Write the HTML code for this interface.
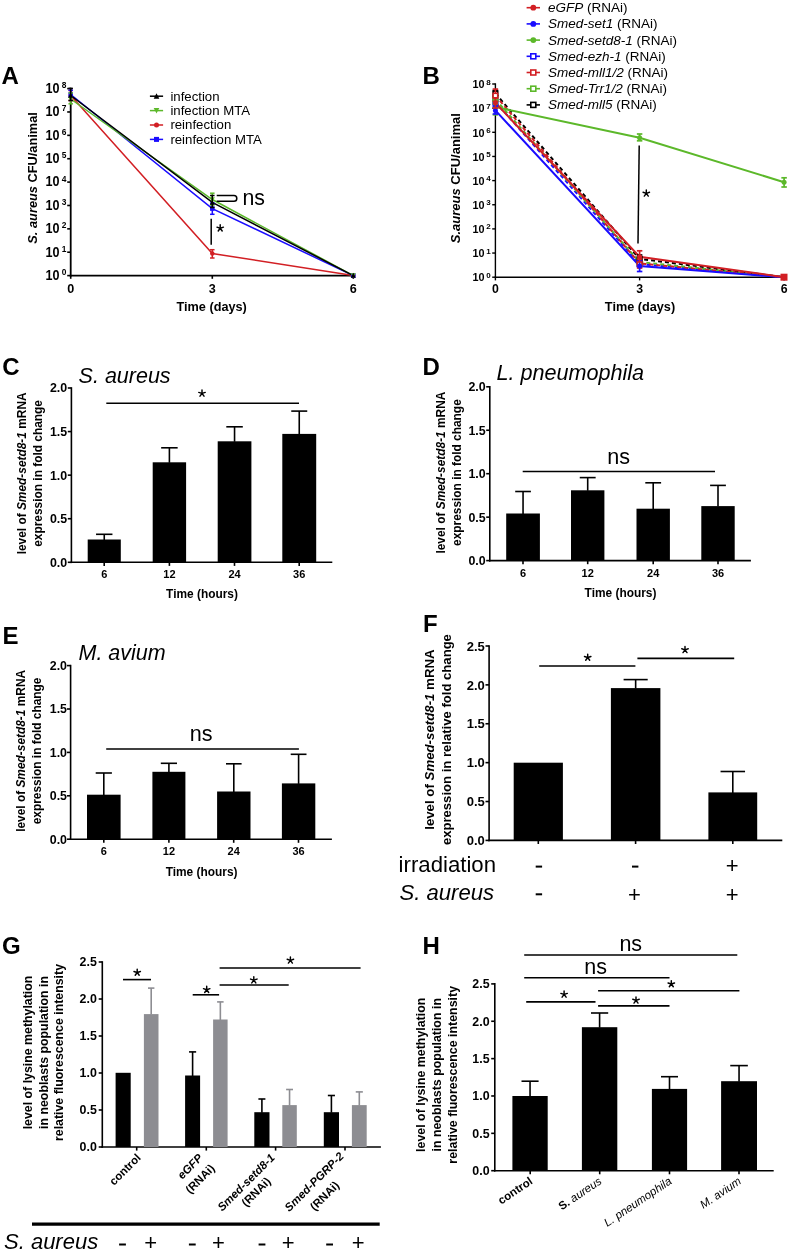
<!DOCTYPE html>
<html><head><meta charset="utf-8"><style>
html,body{margin:0;padding:0;background:#fff;}
body{width:790px;height:1252px;overflow:hidden;}
svg{display:block;font-family:"Liberation Sans",sans-serif;will-change:transform;}
</style></head><body>
<svg width="790" height="1252" viewBox="0 0 790 1252">
<rect width="790" height="1252" fill="#fff"/>
<text x="1.40" y="84.00" font-size="24" font-weight="bold" font-style="normal" text-anchor="start" fill="#000" >A</text>
<text x="422.60" y="84.00" font-size="24" font-weight="bold" font-style="normal" text-anchor="start" fill="#000" >B</text>
<text x="2.20" y="374.70" font-size="24" font-weight="bold" font-style="normal" text-anchor="start" fill="#000" >C</text>
<text x="422.60" y="374.80" font-size="24" font-weight="bold" font-style="normal" text-anchor="start" fill="#000" >D</text>
<text x="2.50" y="643.70" font-size="24" font-weight="bold" font-style="normal" text-anchor="start" fill="#000" >E</text>
<text x="422.90" y="631.80" font-size="24" font-weight="bold" font-style="normal" text-anchor="start" fill="#000" >F</text>
<text x="1.90" y="954.30" font-size="24" font-weight="bold" font-style="normal" text-anchor="start" fill="#000" >G</text>
<text x="422.60" y="954.20" font-size="24" font-weight="bold" font-style="normal" text-anchor="start" fill="#000" >H</text>
<line x1="70.70" y1="87.70" x2="70.70" y2="276.50" stroke="#000" stroke-width="1.8" />
<line x1="69.80" y1="275.60" x2="353.50" y2="275.60" stroke="#000" stroke-width="1.8" />
<line x1="67.20" y1="275.60" x2="70.70" y2="275.60" stroke="#000" stroke-width="1.6" />
<text transform="translate(59.6,279.90) scale(0.9,1)" font-size="14" font-weight="bold" text-anchor="end">10</text>
<text x="61.80" y="275.10" font-size="8.4" font-weight="bold" font-style="normal" text-anchor="start" fill="#000" >0</text>
<line x1="67.20" y1="252.23" x2="70.70" y2="252.23" stroke="#000" stroke-width="1.6" />
<text transform="translate(59.6,256.53) scale(0.9,1)" font-size="14" font-weight="bold" text-anchor="end">10</text>
<text x="61.80" y="251.73" font-size="8.4" font-weight="bold" font-style="normal" text-anchor="start" fill="#000" >1</text>
<line x1="67.20" y1="228.85" x2="70.70" y2="228.85" stroke="#000" stroke-width="1.6" />
<text transform="translate(59.6,233.15) scale(0.9,1)" font-size="14" font-weight="bold" text-anchor="end">10</text>
<text x="61.80" y="228.35" font-size="8.4" font-weight="bold" font-style="normal" text-anchor="start" fill="#000" >2</text>
<line x1="67.20" y1="205.48" x2="70.70" y2="205.48" stroke="#000" stroke-width="1.6" />
<text transform="translate(59.6,209.78) scale(0.9,1)" font-size="14" font-weight="bold" text-anchor="end">10</text>
<text x="61.80" y="204.98" font-size="8.4" font-weight="bold" font-style="normal" text-anchor="start" fill="#000" >3</text>
<line x1="67.20" y1="182.10" x2="70.70" y2="182.10" stroke="#000" stroke-width="1.6" />
<text transform="translate(59.6,186.40) scale(0.9,1)" font-size="14" font-weight="bold" text-anchor="end">10</text>
<text x="61.80" y="181.60" font-size="8.4" font-weight="bold" font-style="normal" text-anchor="start" fill="#000" >4</text>
<line x1="67.20" y1="158.73" x2="70.70" y2="158.73" stroke="#000" stroke-width="1.6" />
<text transform="translate(59.6,163.03) scale(0.9,1)" font-size="14" font-weight="bold" text-anchor="end">10</text>
<text x="61.80" y="158.23" font-size="8.4" font-weight="bold" font-style="normal" text-anchor="start" fill="#000" >5</text>
<line x1="67.20" y1="135.35" x2="70.70" y2="135.35" stroke="#000" stroke-width="1.6" />
<text transform="translate(59.6,139.65) scale(0.9,1)" font-size="14" font-weight="bold" text-anchor="end">10</text>
<text x="61.80" y="134.85" font-size="8.4" font-weight="bold" font-style="normal" text-anchor="start" fill="#000" >6</text>
<line x1="67.20" y1="111.97" x2="70.70" y2="111.97" stroke="#000" stroke-width="1.6" />
<text transform="translate(59.6,116.27) scale(0.9,1)" font-size="14" font-weight="bold" text-anchor="end">10</text>
<text x="61.80" y="111.47" font-size="8.4" font-weight="bold" font-style="normal" text-anchor="start" fill="#000" >7</text>
<line x1="67.20" y1="88.60" x2="70.70" y2="88.60" stroke="#000" stroke-width="1.6" />
<text transform="translate(59.6,92.90) scale(0.9,1)" font-size="14" font-weight="bold" text-anchor="end">10</text>
<text x="61.80" y="88.10" font-size="8.4" font-weight="bold" font-style="normal" text-anchor="start" fill="#000" >8</text>
<line x1="70.70" y1="275.60" x2="70.70" y2="278.80" stroke="#000" stroke-width="1.6" />
<text x="70.70" y="292.90" font-size="12.6" font-weight="bold" font-style="normal" text-anchor="middle" fill="#000" >0</text>
<line x1="212.30" y1="275.60" x2="212.30" y2="278.80" stroke="#000" stroke-width="1.6" />
<text x="212.30" y="292.90" font-size="12.6" font-weight="bold" font-style="normal" text-anchor="middle" fill="#000" >3</text>
<line x1="353.30" y1="275.60" x2="353.30" y2="278.80" stroke="#000" stroke-width="1.6" />
<text x="353.30" y="292.90" font-size="12.6" font-weight="bold" font-style="normal" text-anchor="middle" fill="#000" >6</text>
<text x="211.70" y="311.40" font-size="12.7" font-weight="bold" font-style="normal" text-anchor="middle" fill="#000" >Time (days)</text>
<text transform="translate(37.00,177.90) rotate(-90)" font-size="12.8" font-weight="bold" text-anchor="middle"><tspan font-style="italic">S. aureus</tspan> CFU/animal</text>
<polyline points="70.70,95.50 212.30,253.50 353.30,275.60" fill="none" stroke="#d21f24" stroke-width="1.5"/>
<polyline points="70.70,94.50 212.30,208.60 353.30,275.60" fill="none" stroke="#1a0cff" stroke-width="1.5"/>
<polyline points="70.70,99.00 212.30,199.50 353.30,275.60" fill="none" stroke="#5cb82a" stroke-width="1.5"/>
<polyline points="70.70,95.50 212.30,202.40 353.30,275.60" fill="none" stroke="#000" stroke-width="1.5"/>
<line x1="70.70" y1="90.50" x2="70.70" y2="100.50" stroke="#d21f24" stroke-width="1.5" />
<line x1="68.45" y1="90.50" x2="72.95" y2="90.50" stroke="#d21f24" stroke-width="1.5" />
<line x1="68.45" y1="100.50" x2="72.95" y2="100.50" stroke="#d21f24" stroke-width="1.5" />
<circle cx="70.70" cy="95.50" r="2.25" fill="#d21f24"/>
<line x1="212.30" y1="249.70" x2="212.30" y2="258.00" stroke="#d21f24" stroke-width="1.5" />
<line x1="210.05" y1="249.70" x2="214.55" y2="249.70" stroke="#d21f24" stroke-width="1.5" />
<line x1="210.05" y1="258.00" x2="214.55" y2="258.00" stroke="#d21f24" stroke-width="1.5" />
<circle cx="212.30" cy="253.50" r="2.25" fill="#d21f24"/>
<circle cx="353.30" cy="275.60" r="2.25" fill="#d21f24"/>
<line x1="70.70" y1="90.20" x2="70.70" y2="97.00" stroke="#1a0cff" stroke-width="1.5" />
<line x1="68.45" y1="90.20" x2="72.95" y2="90.20" stroke="#1a0cff" stroke-width="1.5" />
<line x1="68.45" y1="97.00" x2="72.95" y2="97.00" stroke="#1a0cff" stroke-width="1.5" />
<rect x="68.45" y="92.25" width="4.5" height="4.5" fill="#1a0cff"/>
<line x1="212.30" y1="203.00" x2="212.30" y2="214.30" stroke="#1a0cff" stroke-width="1.5" />
<line x1="210.05" y1="203.00" x2="214.55" y2="203.00" stroke="#1a0cff" stroke-width="1.5" />
<line x1="210.05" y1="214.30" x2="214.55" y2="214.30" stroke="#1a0cff" stroke-width="1.5" />
<rect x="210.05" y="206.35" width="4.5" height="4.5" fill="#1a0cff"/>
<rect x="351.05" y="273.35" width="4.5" height="4.5" fill="#1a0cff"/>
<line x1="70.70" y1="93.00" x2="70.70" y2="103.80" stroke="#5cb82a" stroke-width="1.5" />
<line x1="68.45" y1="93.00" x2="72.95" y2="93.00" stroke="#5cb82a" stroke-width="1.5" />
<line x1="68.45" y1="103.80" x2="72.95" y2="103.80" stroke="#5cb82a" stroke-width="1.5" />
<polygon points="70.70,101.75 68.15,96.75 73.25,96.75" fill="#5cb82a"/>
<line x1="212.30" y1="193.20" x2="212.30" y2="205.00" stroke="#5cb82a" stroke-width="1.5" />
<line x1="210.05" y1="193.20" x2="214.55" y2="193.20" stroke="#5cb82a" stroke-width="1.5" />
<line x1="210.05" y1="205.00" x2="214.55" y2="205.00" stroke="#5cb82a" stroke-width="1.5" />
<polygon points="212.30,202.25 209.75,197.25 214.85,197.25" fill="#5cb82a"/>
<polygon points="353.30,278.35 350.75,273.35 355.85,273.35" fill="#5cb82a"/>
<line x1="70.70" y1="88.40" x2="70.70" y2="100.50" stroke="#000" stroke-width="1.5" />
<line x1="68.45" y1="88.40" x2="72.95" y2="88.40" stroke="#000" stroke-width="1.5" />
<line x1="68.45" y1="100.50" x2="72.95" y2="100.50" stroke="#000" stroke-width="1.5" />
<polygon points="70.70,92.75 68.15,97.75 73.25,97.75" fill="#000"/>
<line x1="212.30" y1="195.50" x2="212.30" y2="207.50" stroke="#000" stroke-width="1.5" />
<line x1="210.05" y1="195.50" x2="214.55" y2="195.50" stroke="#000" stroke-width="1.5" />
<line x1="210.05" y1="207.50" x2="214.55" y2="207.50" stroke="#000" stroke-width="1.5" />
<polygon points="212.30,199.65 209.75,204.65 214.85,204.65" fill="#000"/>
<polygon points="353.30,272.85 350.75,277.85 355.85,277.85" fill="#000"/>
<line x1="211.20" y1="218.70" x2="211.20" y2="244.70" stroke="#000" stroke-width="1.5" />
<path d="M220.20,228.22 L220.20,224.82 M220.20,228.22 L223.43,227.17 M220.20,228.22 L222.20,230.97 M220.20,228.22 L218.20,230.97 M220.20,228.22 L216.97,227.17 " stroke="#000" stroke-width="1.45" stroke-linecap="round" fill="none"/>
<path d="M216.7,195.6 H234 Q236.8,195.6 236.8,198.4 Q236.8,201.2 234,201.2 H216.7" fill="none" stroke="#000" stroke-width="1.5"/>
<text x="242.40" y="204.80" font-size="21.3" font-weight="normal" font-style="normal" text-anchor="start" fill="#000" >ns</text>
<line x1="149.90" y1="96.20" x2="163.10" y2="96.20" stroke="#000" stroke-width="1.5" />
<polygon points="156.50,93.20 153.70,98.70 159.30,98.70" fill="#000"/>
<text x="170.40" y="100.60" font-size="13.2" font-weight="normal" font-style="normal" text-anchor="start" fill="#000" >infection</text>
<line x1="149.90" y1="110.60" x2="163.10" y2="110.60" stroke="#5cb82a" stroke-width="1.5" />
<polygon points="156.50,113.60 153.70,108.10 159.30,108.10" fill="#5cb82a"/>
<text x="170.40" y="115.00" font-size="13.2" font-weight="normal" font-style="normal" text-anchor="start" fill="#000" >infection MTA</text>
<line x1="149.90" y1="125.00" x2="163.10" y2="125.00" stroke="#d21f24" stroke-width="1.5" />
<circle cx="156.50" cy="125.00" r="2.50" fill="#d21f24"/>
<text x="170.40" y="129.40" font-size="13.2" font-weight="normal" font-style="normal" text-anchor="start" fill="#000" >reinfection</text>
<line x1="149.90" y1="139.40" x2="163.10" y2="139.40" stroke="#1a0cff" stroke-width="1.5" />
<rect x="154.00" y="136.90" width="5" height="5" fill="#1a0cff"/>
<text x="170.40" y="143.80" font-size="13.2" font-weight="normal" font-style="normal" text-anchor="start" fill="#000" >reinfection MTA</text>
<line x1="495.40" y1="83.30" x2="495.40" y2="277.90" stroke="#000" stroke-width="1.4" />
<line x1="494.70" y1="277.20" x2="784.50" y2="277.20" stroke="#000" stroke-width="1.4" />
<line x1="492.20" y1="277.20" x2="495.40" y2="277.20" stroke="#000" stroke-width="1.4" />
<text transform="translate(484.6,281.40) scale(0.92,1)" font-size="11.8" font-weight="bold" text-anchor="end">10</text>
<text x="486.20" y="277.70" font-size="8.0" font-weight="bold" font-style="normal" text-anchor="start" fill="#000" >0</text>
<line x1="492.20" y1="253.05" x2="495.40" y2="253.05" stroke="#000" stroke-width="1.4" />
<text transform="translate(484.6,257.25) scale(0.92,1)" font-size="11.8" font-weight="bold" text-anchor="end">10</text>
<text x="486.20" y="253.55" font-size="8.0" font-weight="bold" font-style="normal" text-anchor="start" fill="#000" >1</text>
<line x1="492.20" y1="228.90" x2="495.40" y2="228.90" stroke="#000" stroke-width="1.4" />
<text transform="translate(484.6,233.10) scale(0.92,1)" font-size="11.8" font-weight="bold" text-anchor="end">10</text>
<text x="486.20" y="229.40" font-size="8.0" font-weight="bold" font-style="normal" text-anchor="start" fill="#000" >2</text>
<line x1="492.20" y1="204.75" x2="495.40" y2="204.75" stroke="#000" stroke-width="1.4" />
<text transform="translate(484.6,208.95) scale(0.92,1)" font-size="11.8" font-weight="bold" text-anchor="end">10</text>
<text x="486.20" y="205.25" font-size="8.0" font-weight="bold" font-style="normal" text-anchor="start" fill="#000" >3</text>
<line x1="492.20" y1="180.60" x2="495.40" y2="180.60" stroke="#000" stroke-width="1.4" />
<text transform="translate(484.6,184.80) scale(0.92,1)" font-size="11.8" font-weight="bold" text-anchor="end">10</text>
<text x="486.20" y="181.10" font-size="8.0" font-weight="bold" font-style="normal" text-anchor="start" fill="#000" >4</text>
<line x1="492.20" y1="156.45" x2="495.40" y2="156.45" stroke="#000" stroke-width="1.4" />
<text transform="translate(484.6,160.65) scale(0.92,1)" font-size="11.8" font-weight="bold" text-anchor="end">10</text>
<text x="486.20" y="156.95" font-size="8.0" font-weight="bold" font-style="normal" text-anchor="start" fill="#000" >5</text>
<line x1="492.20" y1="132.30" x2="495.40" y2="132.30" stroke="#000" stroke-width="1.4" />
<text transform="translate(484.6,136.50) scale(0.92,1)" font-size="11.8" font-weight="bold" text-anchor="end">10</text>
<text x="486.20" y="132.80" font-size="8.0" font-weight="bold" font-style="normal" text-anchor="start" fill="#000" >6</text>
<line x1="492.20" y1="108.15" x2="495.40" y2="108.15" stroke="#000" stroke-width="1.4" />
<text transform="translate(484.6,112.35) scale(0.92,1)" font-size="11.8" font-weight="bold" text-anchor="end">10</text>
<text x="486.20" y="108.65" font-size="8.0" font-weight="bold" font-style="normal" text-anchor="start" fill="#000" >7</text>
<line x1="492.20" y1="84.00" x2="495.40" y2="84.00" stroke="#000" stroke-width="1.4" />
<text transform="translate(484.6,88.20) scale(0.92,1)" font-size="11.8" font-weight="bold" text-anchor="end">10</text>
<text x="486.20" y="84.50" font-size="8.0" font-weight="bold" font-style="normal" text-anchor="start" fill="#000" >8</text>
<line x1="495.40" y1="277.20" x2="495.40" y2="280.40" stroke="#000" stroke-width="1.4" />
<text x="495.40" y="293.10" font-size="12.3" font-weight="bold" font-style="normal" text-anchor="middle" fill="#000" >0</text>
<line x1="639.60" y1="277.20" x2="639.60" y2="280.40" stroke="#000" stroke-width="1.4" />
<text x="639.60" y="293.10" font-size="12.3" font-weight="bold" font-style="normal" text-anchor="middle" fill="#000" >3</text>
<line x1="784.10" y1="277.20" x2="784.10" y2="280.40" stroke="#000" stroke-width="1.4" />
<text x="784.10" y="293.10" font-size="12.3" font-weight="bold" font-style="normal" text-anchor="middle" fill="#000" >6</text>
<text x="640.00" y="311.10" font-size="12.7" font-weight="bold" font-style="normal" text-anchor="middle" fill="#000" >Time (days)</text>
<text transform="translate(459.90,178.20) rotate(-90)" font-size="13.0" font-weight="bold" text-anchor="middle"><tspan font-style="italic">S.aureus</tspan> CFU/animal</text>
<polyline points="495.40,102.00 639.60,264.00 784.10,277.20" fill="none" stroke="#1a0cff" stroke-width="2" stroke-dasharray="4,3"/>
<polyline points="495.40,99.50 639.60,262.00 784.10,277.20" fill="none" stroke="#5cb82a" stroke-width="2" stroke-dasharray="4,3"/>
<polyline points="495.40,93.50 639.60,258.90 784.10,277.20" fill="none" stroke="#000" stroke-width="2" stroke-dasharray="4,3"/>
<polyline points="495.40,95.60 639.60,263.40 784.10,277.20" fill="none" stroke="#d21f24" stroke-width="2" stroke-dasharray="4,3"/>
<polyline points="495.40,107.00 639.60,137.70 784.10,182.20" fill="none" stroke="#5cb82a" stroke-width="2" />
<polyline points="495.40,110.40 639.60,266.00 784.10,277.20" fill="none" stroke="#1a0cff" stroke-width="2" />
<polyline points="495.40,102.80 639.60,256.80 784.10,277.20" fill="none" stroke="#d21f24" stroke-width="2" />
<line x1="495.40" y1="99.00" x2="495.40" y2="106.00" stroke="#1a0cff" stroke-width="1.7" />
<line x1="492.65" y1="99.00" x2="498.15" y2="99.00" stroke="#1a0cff" stroke-width="1.7" />
<line x1="492.65" y1="106.00" x2="498.15" y2="106.00" stroke="#1a0cff" stroke-width="1.7" />
<rect x="493.10" y="99.70" width="4.60" height="4.60" fill="#fff" stroke="#1a0cff" stroke-width="1.6"/>
<line x1="639.60" y1="260.00" x2="639.60" y2="267.00" stroke="#1a0cff" stroke-width="1.7" />
<line x1="636.85" y1="260.00" x2="642.35" y2="260.00" stroke="#1a0cff" stroke-width="1.7" />
<line x1="636.85" y1="267.00" x2="642.35" y2="267.00" stroke="#1a0cff" stroke-width="1.7" />
<rect x="637.30" y="261.70" width="4.60" height="4.60" fill="#fff" stroke="#1a0cff" stroke-width="1.6"/>
<line x1="495.40" y1="97.00" x2="495.40" y2="104.00" stroke="#5cb82a" stroke-width="1.7" />
<line x1="492.65" y1="97.00" x2="498.15" y2="97.00" stroke="#5cb82a" stroke-width="1.7" />
<line x1="492.65" y1="104.00" x2="498.15" y2="104.00" stroke="#5cb82a" stroke-width="1.7" />
<rect x="493.10" y="97.20" width="4.60" height="4.60" fill="#fff" stroke="#5cb82a" stroke-width="1.6"/>
<line x1="639.60" y1="258.00" x2="639.60" y2="266.00" stroke="#5cb82a" stroke-width="1.7" />
<line x1="636.85" y1="258.00" x2="642.35" y2="258.00" stroke="#5cb82a" stroke-width="1.7" />
<line x1="636.85" y1="266.00" x2="642.35" y2="266.00" stroke="#5cb82a" stroke-width="1.7" />
<rect x="637.30" y="259.70" width="4.60" height="4.60" fill="#fff" stroke="#5cb82a" stroke-width="1.6"/>
<line x1="495.40" y1="90.50" x2="495.40" y2="97.00" stroke="#000" stroke-width="1.7" />
<line x1="492.65" y1="90.50" x2="498.15" y2="90.50" stroke="#000" stroke-width="1.7" />
<line x1="492.65" y1="97.00" x2="498.15" y2="97.00" stroke="#000" stroke-width="1.7" />
<rect x="493.10" y="91.20" width="4.60" height="4.60" fill="#fff" stroke="#000" stroke-width="1.6"/>
<line x1="639.60" y1="255.00" x2="639.60" y2="263.00" stroke="#000" stroke-width="1.7" />
<line x1="636.85" y1="255.00" x2="642.35" y2="255.00" stroke="#000" stroke-width="1.7" />
<line x1="636.85" y1="263.00" x2="642.35" y2="263.00" stroke="#000" stroke-width="1.7" />
<rect x="637.30" y="256.60" width="4.60" height="4.60" fill="#fff" stroke="#000" stroke-width="1.6"/>
<line x1="495.40" y1="89.10" x2="495.40" y2="101.00" stroke="#d21f24" stroke-width="1.7" />
<line x1="492.65" y1="89.10" x2="498.15" y2="89.10" stroke="#d21f24" stroke-width="1.7" />
<line x1="492.65" y1="101.00" x2="498.15" y2="101.00" stroke="#d21f24" stroke-width="1.7" />
<rect x="493.10" y="93.30" width="4.60" height="4.60" fill="#fff" stroke="#d21f24" stroke-width="1.6"/>
<line x1="639.60" y1="259.00" x2="639.60" y2="268.00" stroke="#d21f24" stroke-width="1.7" />
<line x1="636.85" y1="259.00" x2="642.35" y2="259.00" stroke="#d21f24" stroke-width="1.7" />
<line x1="636.85" y1="268.00" x2="642.35" y2="268.00" stroke="#d21f24" stroke-width="1.7" />
<rect x="637.30" y="261.10" width="4.60" height="4.60" fill="#fff" stroke="#d21f24" stroke-width="1.6"/>
<line x1="495.40" y1="99.70" x2="495.40" y2="114.80" stroke="#5cb82a" stroke-width="1.7" />
<line x1="492.65" y1="99.70" x2="498.15" y2="99.70" stroke="#5cb82a" stroke-width="1.7" />
<line x1="492.65" y1="114.80" x2="498.15" y2="114.80" stroke="#5cb82a" stroke-width="1.7" />
<circle cx="495.40" cy="107.00" r="2.50" fill="#5cb82a"/>
<line x1="639.60" y1="134.00" x2="639.60" y2="140.80" stroke="#5cb82a" stroke-width="1.7" />
<line x1="636.85" y1="134.00" x2="642.35" y2="134.00" stroke="#5cb82a" stroke-width="1.7" />
<line x1="636.85" y1="140.80" x2="642.35" y2="140.80" stroke="#5cb82a" stroke-width="1.7" />
<circle cx="639.60" cy="137.70" r="2.50" fill="#5cb82a"/>
<line x1="784.10" y1="177.80" x2="784.10" y2="187.00" stroke="#5cb82a" stroke-width="1.7" />
<line x1="781.35" y1="177.80" x2="786.85" y2="177.80" stroke="#5cb82a" stroke-width="1.7" />
<line x1="781.35" y1="187.00" x2="786.85" y2="187.00" stroke="#5cb82a" stroke-width="1.7" />
<circle cx="784.10" cy="182.20" r="2.50" fill="#5cb82a"/>
<line x1="495.40" y1="106.00" x2="495.40" y2="114.00" stroke="#1a0cff" stroke-width="1.7" />
<line x1="492.65" y1="106.00" x2="498.15" y2="106.00" stroke="#1a0cff" stroke-width="1.7" />
<line x1="492.65" y1="114.00" x2="498.15" y2="114.00" stroke="#1a0cff" stroke-width="1.7" />
<circle cx="495.40" cy="110.40" r="2.50" fill="#1a0cff"/>
<line x1="639.60" y1="261.00" x2="639.60" y2="271.50" stroke="#1a0cff" stroke-width="1.7" />
<line x1="636.85" y1="261.00" x2="642.35" y2="261.00" stroke="#1a0cff" stroke-width="1.7" />
<line x1="636.85" y1="271.50" x2="642.35" y2="271.50" stroke="#1a0cff" stroke-width="1.7" />
<circle cx="639.60" cy="266.00" r="2.50" fill="#1a0cff"/>
<line x1="495.40" y1="98.00" x2="495.40" y2="108.00" stroke="#d21f24" stroke-width="1.7" />
<line x1="492.65" y1="98.00" x2="498.15" y2="98.00" stroke="#d21f24" stroke-width="1.7" />
<line x1="492.65" y1="108.00" x2="498.15" y2="108.00" stroke="#d21f24" stroke-width="1.7" />
<circle cx="495.40" cy="102.80" r="2.50" fill="#d21f24"/>
<line x1="639.60" y1="250.80" x2="639.60" y2="262.00" stroke="#d21f24" stroke-width="1.7" />
<line x1="636.85" y1="250.80" x2="642.35" y2="250.80" stroke="#d21f24" stroke-width="1.7" />
<line x1="636.85" y1="262.00" x2="642.35" y2="262.00" stroke="#d21f24" stroke-width="1.7" />
<circle cx="639.60" cy="256.80" r="2.50" fill="#d21f24"/>
<rect x="780.50" y="273.70" width="7.00" height="7.00" fill="#d21f24"/>
<line x1="639.20" y1="145.60" x2="638.00" y2="243.50" stroke="#000" stroke-width="1.5" />
<path d="M646.30,193.32 L646.30,189.92 M646.30,193.32 L649.53,192.27 M646.30,193.32 L648.30,196.07 M646.30,193.32 L644.30,196.07 M646.30,193.32 L643.07,192.27 " stroke="#000" stroke-width="1.45" stroke-linecap="round" fill="none"/>
<line x1="526.60" y1="7.70" x2="540.00" y2="7.70" stroke="#d21f24" stroke-width="1.6" />
<circle cx="533.30" cy="7.70" r="2.90" fill="#d21f24"/>
<text x="547.90" y="12.20" font-size="13.5" font-weight="normal" font-style="normal" text-anchor="start" fill="#000" ><tspan font-style="italic">eGFP</tspan> (RNAi)</text>
<line x1="526.60" y1="23.90" x2="540.00" y2="23.90" stroke="#1a0cff" stroke-width="1.6" />
<circle cx="533.30" cy="23.90" r="2.90" fill="#1a0cff"/>
<text x="547.90" y="28.40" font-size="13.5" font-weight="normal" font-style="normal" text-anchor="start" fill="#000" ><tspan font-style="italic">Smed-set1</tspan> (RNAi)</text>
<line x1="526.60" y1="40.10" x2="540.00" y2="40.10" stroke="#5cb82a" stroke-width="1.6" />
<circle cx="533.30" cy="40.10" r="2.90" fill="#5cb82a"/>
<text x="547.90" y="44.60" font-size="13.5" font-weight="normal" font-style="normal" text-anchor="start" fill="#000" ><tspan font-style="italic">Smed-setd8-1</tspan> (RNAi)</text>
<line x1="526.60" y1="56.30" x2="540.00" y2="56.30" stroke="#1a0cff" stroke-width="1.6" />
<rect x="530.80" y="53.80" width="5.00" height="5.00" fill="#fff" stroke="#1a0cff" stroke-width="1.6"/>
<text x="547.90" y="60.80" font-size="13.5" font-weight="normal" font-style="normal" text-anchor="start" fill="#000" ><tspan font-style="italic">Smed-ezh-1</tspan> (RNAi)</text>
<line x1="526.60" y1="72.50" x2="540.00" y2="72.50" stroke="#d21f24" stroke-width="1.6" />
<rect x="530.80" y="70.00" width="5.00" height="5.00" fill="#fff" stroke="#d21f24" stroke-width="1.6"/>
<text x="547.90" y="77.00" font-size="13.5" font-weight="normal" font-style="normal" text-anchor="start" fill="#000" ><tspan font-style="italic">Smed-mll1/2</tspan> (RNAi)</text>
<line x1="526.60" y1="88.70" x2="540.00" y2="88.70" stroke="#5cb82a" stroke-width="1.6" />
<rect x="530.80" y="86.20" width="5.00" height="5.00" fill="#fff" stroke="#5cb82a" stroke-width="1.6"/>
<text x="547.90" y="93.20" font-size="13.5" font-weight="normal" font-style="normal" text-anchor="start" fill="#000" ><tspan font-style="italic">Smed-Trr1/2</tspan> (RNAi)</text>
<line x1="526.60" y1="104.90" x2="540.00" y2="104.90" stroke="#000" stroke-width="1.6" />
<rect x="530.80" y="102.40" width="5.00" height="5.00" fill="#fff" stroke="#000" stroke-width="1.6"/>
<text x="547.90" y="109.40" font-size="13.5" font-weight="normal" font-style="normal" text-anchor="start" fill="#000" ><tspan font-style="italic">Smed-mll5</tspan> (RNAi)</text>
<text x="78.60" y="382.80" font-size="21.5" font-weight="normal" font-style="italic" text-anchor="start" fill="#000" >S. aureus</text>
<line x1="71.40" y1="387.20" x2="71.40" y2="563.10" stroke="#000" stroke-width="1.6" />
<line x1="70.60" y1="562.30" x2="332.30" y2="562.30" stroke="#000" stroke-width="1.6" />
<line x1="67.80" y1="562.30" x2="71.40" y2="562.30" stroke="#000" stroke-width="1.6" />
<text x="67.20" y="566.76" font-size="12.4" font-weight="bold" font-style="normal" text-anchor="end" fill="#000" >0.0</text>
<line x1="67.80" y1="518.72" x2="71.40" y2="518.72" stroke="#000" stroke-width="1.6" />
<text x="67.20" y="523.19" font-size="12.4" font-weight="bold" font-style="normal" text-anchor="end" fill="#000" >0.5</text>
<line x1="67.80" y1="475.15" x2="71.40" y2="475.15" stroke="#000" stroke-width="1.6" />
<text x="67.20" y="479.61" font-size="12.4" font-weight="bold" font-style="normal" text-anchor="end" fill="#000" >1.0</text>
<line x1="67.80" y1="431.57" x2="71.40" y2="431.57" stroke="#000" stroke-width="1.6" />
<text x="67.20" y="436.04" font-size="12.4" font-weight="bold" font-style="normal" text-anchor="end" fill="#000" >1.5</text>
<line x1="67.80" y1="388.00" x2="71.40" y2="388.00" stroke="#000" stroke-width="1.6" />
<text x="67.20" y="392.46" font-size="12.4" font-weight="bold" font-style="normal" text-anchor="end" fill="#000" >2.0</text>
<rect x="87.70" y="539.50" width="33.10" height="22.80" fill="#000"/>
<line x1="104.25" y1="534.30" x2="104.25" y2="540.00" stroke="#000" stroke-width="1.6" />
<line x1="96.05" y1="534.30" x2="112.45" y2="534.30" stroke="#000" stroke-width="1.6" />
<rect x="152.70" y="462.30" width="33.40" height="100.00" fill="#000"/>
<line x1="169.40" y1="447.80" x2="169.40" y2="462.80" stroke="#000" stroke-width="1.6" />
<line x1="161.15" y1="447.80" x2="177.65" y2="447.80" stroke="#000" stroke-width="1.6" />
<rect x="217.70" y="441.30" width="33.70" height="121.00" fill="#000"/>
<line x1="234.55" y1="426.80" x2="234.55" y2="441.80" stroke="#000" stroke-width="1.6" />
<line x1="226.30" y1="426.80" x2="242.80" y2="426.80" stroke="#000" stroke-width="1.6" />
<rect x="282.30" y="433.90" width="33.90" height="128.40" fill="#000"/>
<line x1="299.25" y1="411.10" x2="299.25" y2="434.40" stroke="#000" stroke-width="1.6" />
<line x1="291.25" y1="411.10" x2="307.25" y2="411.10" stroke="#000" stroke-width="1.6" />
<line x1="104.20" y1="562.30" x2="104.20" y2="565.90" stroke="#000" stroke-width="1.6" />
<text x="104.20" y="577.90" font-size="11" font-weight="bold" font-style="normal" text-anchor="middle" fill="#000" >6</text>
<line x1="169.40" y1="562.30" x2="169.40" y2="565.90" stroke="#000" stroke-width="1.6" />
<text x="169.40" y="577.90" font-size="11" font-weight="bold" font-style="normal" text-anchor="middle" fill="#000" >12</text>
<line x1="234.50" y1="562.30" x2="234.50" y2="565.90" stroke="#000" stroke-width="1.6" />
<text x="234.50" y="577.90" font-size="11" font-weight="bold" font-style="normal" text-anchor="middle" fill="#000" >24</text>
<line x1="299.20" y1="562.30" x2="299.20" y2="565.90" stroke="#000" stroke-width="1.6" />
<text x="299.20" y="577.90" font-size="11" font-weight="bold" font-style="normal" text-anchor="middle" fill="#000" >36</text>
<line x1="106.30" y1="403.30" x2="299.00" y2="403.30" stroke="#000" stroke-width="1.6" />
<path d="M202.00,393.42 L202.00,390.02 M202.00,393.42 L205.23,392.37 M202.00,393.42 L204.00,396.17 M202.00,393.42 L200.00,396.17 M202.00,393.42 L198.77,392.37 " stroke="#000" stroke-width="1.45" stroke-linecap="round" fill="none"/>
<text x="202.00" y="598.10" font-size="11.9" font-weight="bold" font-style="normal" text-anchor="middle" fill="#000" >Time (hours)</text>
<text transform="translate(26.20,473.40) rotate(-90)" font-size="11.9" font-weight="bold" text-anchor="middle">level of <tspan font-style="italic">Smed-setd8-1</tspan> mRNA</text>
<text transform="translate(42.20,473.40) rotate(-90)" font-size="11.9" font-weight="bold" text-anchor="middle">expression in fold change</text>
<text x="496.40" y="380.40" font-size="21.6" font-weight="normal" font-style="italic" text-anchor="start" fill="#000" >L. pneumophila</text>
<line x1="489.80" y1="386.00" x2="489.80" y2="561.40" stroke="#000" stroke-width="1.6" />
<line x1="489.00" y1="560.60" x2="750.90" y2="560.60" stroke="#000" stroke-width="1.6" />
<line x1="486.20" y1="560.60" x2="489.80" y2="560.60" stroke="#000" stroke-width="1.6" />
<text x="485.70" y="565.06" font-size="12.4" font-weight="bold" font-style="normal" text-anchor="end" fill="#000" >0.0</text>
<line x1="486.20" y1="517.15" x2="489.80" y2="517.15" stroke="#000" stroke-width="1.6" />
<text x="485.70" y="521.61" font-size="12.4" font-weight="bold" font-style="normal" text-anchor="end" fill="#000" >0.5</text>
<line x1="486.20" y1="473.70" x2="489.80" y2="473.70" stroke="#000" stroke-width="1.6" />
<text x="485.70" y="478.16" font-size="12.4" font-weight="bold" font-style="normal" text-anchor="end" fill="#000" >1.0</text>
<line x1="486.20" y1="430.25" x2="489.80" y2="430.25" stroke="#000" stroke-width="1.6" />
<text x="485.70" y="434.71" font-size="12.4" font-weight="bold" font-style="normal" text-anchor="end" fill="#000" >1.5</text>
<line x1="486.20" y1="386.80" x2="489.80" y2="386.80" stroke="#000" stroke-width="1.6" />
<text x="485.70" y="391.26" font-size="12.4" font-weight="bold" font-style="normal" text-anchor="end" fill="#000" >2.0</text>
<rect x="506.20" y="513.50" width="33.70" height="47.10" fill="#000"/>
<line x1="523.05" y1="491.50" x2="523.05" y2="514.00" stroke="#000" stroke-width="1.6" />
<line x1="515.20" y1="491.50" x2="530.90" y2="491.50" stroke="#000" stroke-width="1.6" />
<rect x="571.00" y="490.30" width="33.40" height="70.30" fill="#000"/>
<line x1="587.70" y1="477.60" x2="587.70" y2="490.80" stroke="#000" stroke-width="1.6" />
<line x1="579.75" y1="477.60" x2="595.65" y2="477.60" stroke="#000" stroke-width="1.6" />
<rect x="636.50" y="508.70" width="33.40" height="51.90" fill="#000"/>
<line x1="653.20" y1="482.80" x2="653.20" y2="509.20" stroke="#000" stroke-width="1.6" />
<line x1="645.30" y1="482.80" x2="661.10" y2="482.80" stroke="#000" stroke-width="1.6" />
<rect x="701.30" y="506.10" width="33.40" height="54.50" fill="#000"/>
<line x1="718.00" y1="485.40" x2="718.00" y2="506.60" stroke="#000" stroke-width="1.6" />
<line x1="710.10" y1="485.40" x2="725.90" y2="485.40" stroke="#000" stroke-width="1.6" />
<line x1="523.00" y1="560.60" x2="523.00" y2="564.20" stroke="#000" stroke-width="1.6" />
<text x="523.00" y="577.20" font-size="11" font-weight="bold" font-style="normal" text-anchor="middle" fill="#000" >6</text>
<line x1="587.70" y1="560.60" x2="587.70" y2="564.20" stroke="#000" stroke-width="1.6" />
<text x="587.70" y="577.20" font-size="11" font-weight="bold" font-style="normal" text-anchor="middle" fill="#000" >12</text>
<line x1="653.20" y1="560.60" x2="653.20" y2="564.20" stroke="#000" stroke-width="1.6" />
<text x="653.20" y="577.20" font-size="11" font-weight="bold" font-style="normal" text-anchor="middle" fill="#000" >24</text>
<line x1="718.00" y1="560.60" x2="718.00" y2="564.20" stroke="#000" stroke-width="1.6" />
<text x="718.00" y="577.20" font-size="11" font-weight="bold" font-style="normal" text-anchor="middle" fill="#000" >36</text>
<line x1="522.70" y1="471.50" x2="715.00" y2="471.50" stroke="#000" stroke-width="1.6" />
<text x="607.20" y="464.20" font-size="21.6" font-weight="normal" font-style="normal" text-anchor="start" fill="#000" >ns</text>
<text x="620.50" y="596.90" font-size="11.9" font-weight="bold" font-style="normal" text-anchor="middle" fill="#000" >Time (hours)</text>
<text transform="translate(444.80,472.60) rotate(-90)" font-size="11.9" font-weight="bold" text-anchor="middle">level of <tspan font-style="italic">Smed-setd8-1</tspan> mRNA</text>
<text transform="translate(460.50,472.60) rotate(-90)" font-size="11.9" font-weight="bold" text-anchor="middle">expression in fold change</text>
<text x="78.50" y="660.30" font-size="21.5" font-weight="normal" font-style="italic" text-anchor="start" fill="#000" >M. avium</text>
<line x1="70.60" y1="664.80" x2="70.60" y2="840.00" stroke="#000" stroke-width="1.6" />
<line x1="69.80" y1="839.20" x2="331.90" y2="839.20" stroke="#000" stroke-width="1.6" />
<line x1="67.00" y1="839.20" x2="70.60" y2="839.20" stroke="#000" stroke-width="1.6" />
<text x="67.00" y="843.66" font-size="12.4" font-weight="bold" font-style="normal" text-anchor="end" fill="#000" >0.0</text>
<line x1="67.00" y1="795.80" x2="70.60" y2="795.80" stroke="#000" stroke-width="1.6" />
<text x="67.00" y="800.26" font-size="12.4" font-weight="bold" font-style="normal" text-anchor="end" fill="#000" >0.5</text>
<line x1="67.00" y1="752.40" x2="70.60" y2="752.40" stroke="#000" stroke-width="1.6" />
<text x="67.00" y="756.86" font-size="12.4" font-weight="bold" font-style="normal" text-anchor="end" fill="#000" >1.0</text>
<line x1="67.00" y1="709.00" x2="70.60" y2="709.00" stroke="#000" stroke-width="1.6" />
<text x="67.00" y="713.46" font-size="12.4" font-weight="bold" font-style="normal" text-anchor="end" fill="#000" >1.5</text>
<line x1="67.00" y1="665.60" x2="70.60" y2="665.60" stroke="#000" stroke-width="1.6" />
<text x="67.00" y="670.06" font-size="12.4" font-weight="bold" font-style="normal" text-anchor="end" fill="#000" >2.0</text>
<rect x="87.00" y="794.70" width="33.60" height="44.50" fill="#000"/>
<line x1="103.80" y1="773.00" x2="103.80" y2="795.20" stroke="#000" stroke-width="1.6" />
<line x1="95.70" y1="773.00" x2="111.90" y2="773.00" stroke="#000" stroke-width="1.6" />
<rect x="152.40" y="771.80" width="33.00" height="67.40" fill="#000"/>
<line x1="168.90" y1="763.30" x2="168.90" y2="772.30" stroke="#000" stroke-width="1.6" />
<line x1="160.80" y1="763.30" x2="177.00" y2="763.30" stroke="#000" stroke-width="1.6" />
<rect x="217.10" y="791.50" width="33.40" height="47.70" fill="#000"/>
<line x1="233.80" y1="763.80" x2="233.80" y2="792.00" stroke="#000" stroke-width="1.6" />
<line x1="226.00" y1="763.80" x2="241.60" y2="763.80" stroke="#000" stroke-width="1.6" />
<rect x="281.90" y="783.40" width="33.40" height="55.80" fill="#000"/>
<line x1="298.60" y1="754.30" x2="298.60" y2="783.90" stroke="#000" stroke-width="1.6" />
<line x1="290.70" y1="754.30" x2="306.50" y2="754.30" stroke="#000" stroke-width="1.6" />
<line x1="103.80" y1="839.20" x2="103.80" y2="842.80" stroke="#000" stroke-width="1.6" />
<text x="103.80" y="855.20" font-size="11" font-weight="bold" font-style="normal" text-anchor="middle" fill="#000" >6</text>
<line x1="168.90" y1="839.20" x2="168.90" y2="842.80" stroke="#000" stroke-width="1.6" />
<text x="168.90" y="855.20" font-size="11" font-weight="bold" font-style="normal" text-anchor="middle" fill="#000" >12</text>
<line x1="233.70" y1="839.20" x2="233.70" y2="842.80" stroke="#000" stroke-width="1.6" />
<text x="233.70" y="855.20" font-size="11" font-weight="bold" font-style="normal" text-anchor="middle" fill="#000" >24</text>
<line x1="298.50" y1="839.20" x2="298.50" y2="842.80" stroke="#000" stroke-width="1.6" />
<text x="298.50" y="855.20" font-size="11" font-weight="bold" font-style="normal" text-anchor="middle" fill="#000" >36</text>
<line x1="106.20" y1="749.00" x2="298.90" y2="749.00" stroke="#000" stroke-width="1.6" />
<text x="189.80" y="740.50" font-size="21.6" font-weight="normal" font-style="normal" text-anchor="start" fill="#000" >ns</text>
<text x="201.60" y="875.80" font-size="11.9" font-weight="bold" font-style="normal" text-anchor="middle" fill="#000" >Time (hours)</text>
<text transform="translate(24.80,750.90) rotate(-90)" font-size="11.9" font-weight="bold" text-anchor="middle">level of <tspan font-style="italic">Smed-setd8-1</tspan> mRNA</text>
<text transform="translate(40.70,750.90) rotate(-90)" font-size="11.9" font-weight="bold" text-anchor="middle">expression in fold change</text>
<line x1="489.10" y1="645.20" x2="489.10" y2="841.20" stroke="#000" stroke-width="1.6" />
<line x1="488.30" y1="840.40" x2="782.30" y2="840.40" stroke="#000" stroke-width="1.6" />
<line x1="485.50" y1="840.40" x2="489.10" y2="840.40" stroke="#000" stroke-width="1.6" />
<text x="484.80" y="845.08" font-size="13" font-weight="bold" font-style="normal" text-anchor="end" fill="#000" >0.0</text>
<line x1="485.50" y1="801.52" x2="489.10" y2="801.52" stroke="#000" stroke-width="1.6" />
<text x="484.80" y="806.20" font-size="13" font-weight="bold" font-style="normal" text-anchor="end" fill="#000" >0.5</text>
<line x1="485.50" y1="762.64" x2="489.10" y2="762.64" stroke="#000" stroke-width="1.6" />
<text x="484.80" y="767.32" font-size="13" font-weight="bold" font-style="normal" text-anchor="end" fill="#000" >1.0</text>
<line x1="485.50" y1="723.76" x2="489.10" y2="723.76" stroke="#000" stroke-width="1.6" />
<text x="484.80" y="728.44" font-size="13" font-weight="bold" font-style="normal" text-anchor="end" fill="#000" >1.5</text>
<line x1="485.50" y1="684.88" x2="489.10" y2="684.88" stroke="#000" stroke-width="1.6" />
<text x="484.80" y="689.56" font-size="13" font-weight="bold" font-style="normal" text-anchor="end" fill="#000" >2.0</text>
<line x1="485.50" y1="646.00" x2="489.10" y2="646.00" stroke="#000" stroke-width="1.6" />
<text x="484.80" y="650.68" font-size="13" font-weight="bold" font-style="normal" text-anchor="end" fill="#000" >2.5</text>
<rect x="513.70" y="762.70" width="49.20" height="77.70" fill="#000"/>
<rect x="610.90" y="688.10" width="49.50" height="152.30" fill="#000"/>
<line x1="635.65" y1="679.60" x2="635.65" y2="688.60" stroke="#000" stroke-width="1.6" />
<line x1="623.60" y1="679.60" x2="647.70" y2="679.60" stroke="#000" stroke-width="1.6" />
<rect x="708.40" y="792.40" width="48.80" height="48.00" fill="#000"/>
<line x1="732.80" y1="771.50" x2="732.80" y2="792.90" stroke="#000" stroke-width="1.6" />
<line x1="720.55" y1="771.50" x2="745.05" y2="771.50" stroke="#000" stroke-width="1.6" />
<line x1="538.30" y1="840.40" x2="538.30" y2="844.00" stroke="#000" stroke-width="1.6" />
<line x1="635.60" y1="840.40" x2="635.60" y2="844.00" stroke="#000" stroke-width="1.6" />
<line x1="732.80" y1="840.40" x2="732.80" y2="844.00" stroke="#000" stroke-width="1.6" />
<line x1="539.20" y1="666.00" x2="635.40" y2="666.00" stroke="#000" stroke-width="1.6" />
<path d="M587.70,657.52 L587.70,654.12 M587.70,657.52 L590.93,656.47 M587.70,657.52 L589.70,660.27 M587.70,657.52 L585.70,660.27 M587.70,657.52 L584.47,656.47 " stroke="#000" stroke-width="1.45" stroke-linecap="round" fill="none"/>
<line x1="637.40" y1="658.40" x2="734.20" y2="658.40" stroke="#000" stroke-width="1.6" />
<path d="M685.00,649.82 L685.00,646.42 M685.00,649.82 L688.23,648.77 M685.00,649.82 L687.00,652.57 M685.00,649.82 L683.00,652.57 M685.00,649.82 L681.77,648.77 " stroke="#000" stroke-width="1.45" stroke-linecap="round" fill="none"/>
<text x="398.60" y="872.10" font-size="22.2" font-weight="normal" font-style="normal" text-anchor="start" fill="#000" >irradiation</text>
<text x="399.50" y="899.50" font-size="22.1" font-weight="normal" font-style="italic" text-anchor="start" fill="#000" >S. aureus</text>
<rect x="535.70" y="865.60" width="6.40" height="2.00" fill="#000"/>
<rect x="632.00" y="865.60" width="6.40" height="2.00" fill="#000"/>
<text x="732.30" y="872.60" font-size="22" font-weight="normal" font-style="normal" text-anchor="middle" fill="#000" >+</text>
<rect x="535.70" y="893.30" width="6.40" height="2.00" fill="#000"/>
<text x="634.50" y="902.30" font-size="22" font-weight="normal" font-style="normal" text-anchor="middle" fill="#000" >+</text>
<text x="732.30" y="902.30" font-size="22" font-weight="normal" font-style="normal" text-anchor="middle" fill="#000" >+</text>
<text transform="translate(433.60,739.60) rotate(-90)" font-size="13.25" font-weight="bold" text-anchor="middle">level of <tspan font-style="italic">Smed-setd8-1</tspan> mRNA</text>
<text transform="translate(451.10,739.60) rotate(-90)" font-size="13.1" font-weight="bold" text-anchor="middle">expression in relative fold change</text>
<line x1="102.30" y1="961.20" x2="102.30" y2="1147.80" stroke="#000" stroke-width="1.6" />
<line x1="101.50" y1="1147.00" x2="380.90" y2="1147.00" stroke="#000" stroke-width="1.6" />
<line x1="98.70" y1="1147.00" x2="102.30" y2="1147.00" stroke="#000" stroke-width="1.6" />
<text x="96.80" y="1151.46" font-size="12.4" font-weight="bold" font-style="normal" text-anchor="end" fill="#000" >0.0</text>
<line x1="98.70" y1="1110.00" x2="102.30" y2="1110.00" stroke="#000" stroke-width="1.6" />
<text x="96.80" y="1114.46" font-size="12.4" font-weight="bold" font-style="normal" text-anchor="end" fill="#000" >0.5</text>
<line x1="98.70" y1="1073.00" x2="102.30" y2="1073.00" stroke="#000" stroke-width="1.6" />
<text x="96.80" y="1077.46" font-size="12.4" font-weight="bold" font-style="normal" text-anchor="end" fill="#000" >1.0</text>
<line x1="98.70" y1="1036.00" x2="102.30" y2="1036.00" stroke="#000" stroke-width="1.6" />
<text x="96.80" y="1040.46" font-size="12.4" font-weight="bold" font-style="normal" text-anchor="end" fill="#000" >1.5</text>
<line x1="98.70" y1="999.00" x2="102.30" y2="999.00" stroke="#000" stroke-width="1.6" />
<text x="96.80" y="1003.46" font-size="12.4" font-weight="bold" font-style="normal" text-anchor="end" fill="#000" >2.0</text>
<line x1="98.70" y1="962.00" x2="102.30" y2="962.00" stroke="#000" stroke-width="1.6" />
<text x="96.80" y="966.46" font-size="12.4" font-weight="bold" font-style="normal" text-anchor="end" fill="#000" >2.5</text>
<rect x="115.60" y="1072.80" width="15.10" height="74.20" fill="#000"/>
<rect x="143.90" y="1014.10" width="14.60" height="132.90" fill="#8d8d92"/>
<line x1="151.20" y1="988.10" x2="151.20" y2="1014.60" stroke="#8d8d92" stroke-width="1.6" />
<line x1="148.00" y1="988.10" x2="154.40" y2="988.10" stroke="#8d8d92" stroke-width="1.6" />
<rect x="185.10" y="1075.50" width="15.00" height="71.50" fill="#000"/>
<line x1="192.60" y1="1051.90" x2="192.60" y2="1076.00" stroke="#000" stroke-width="1.6" />
<line x1="189.05" y1="1051.90" x2="196.15" y2="1051.90" stroke="#000" stroke-width="1.6" />
<rect x="213.10" y="1019.50" width="14.50" height="127.50" fill="#8d8d92"/>
<line x1="220.35" y1="1001.90" x2="220.35" y2="1020.00" stroke="#8d8d92" stroke-width="1.6" />
<line x1="217.10" y1="1001.90" x2="223.60" y2="1001.90" stroke="#8d8d92" stroke-width="1.6" />
<rect x="254.30" y="1112.20" width="15.20" height="34.80" fill="#000"/>
<line x1="261.90" y1="1099.00" x2="261.90" y2="1112.70" stroke="#000" stroke-width="1.6" />
<line x1="258.40" y1="1099.00" x2="265.40" y2="1099.00" stroke="#000" stroke-width="1.6" />
<rect x="282.30" y="1105.10" width="14.50" height="41.90" fill="#8d8d92"/>
<line x1="289.55" y1="1089.50" x2="289.55" y2="1105.60" stroke="#8d8d92" stroke-width="1.6" />
<line x1="286.10" y1="1089.50" x2="293.00" y2="1089.50" stroke="#8d8d92" stroke-width="1.6" />
<rect x="323.80" y="1112.20" width="15.20" height="34.80" fill="#000"/>
<line x1="331.40" y1="1095.50" x2="331.40" y2="1112.70" stroke="#000" stroke-width="1.6" />
<line x1="327.85" y1="1095.50" x2="334.95" y2="1095.50" stroke="#000" stroke-width="1.6" />
<rect x="351.90" y="1105.10" width="14.80" height="41.90" fill="#8d8d92"/>
<line x1="359.30" y1="1091.90" x2="359.30" y2="1105.60" stroke="#8d8d92" stroke-width="1.6" />
<line x1="355.75" y1="1091.90" x2="362.85" y2="1091.90" stroke="#8d8d92" stroke-width="1.6" />
<line x1="136.70" y1="1147.00" x2="136.70" y2="1150.60" stroke="#000" stroke-width="1.6" />
<line x1="206.30" y1="1147.00" x2="206.30" y2="1150.60" stroke="#000" stroke-width="1.6" />
<line x1="275.60" y1="1147.00" x2="275.60" y2="1150.60" stroke="#000" stroke-width="1.6" />
<line x1="345.00" y1="1147.00" x2="345.00" y2="1150.60" stroke="#000" stroke-width="1.6" />
<line x1="123.00" y1="979.60" x2="151.00" y2="979.60" stroke="#000" stroke-width="1.6" />
<path d="M137.20,972.52 L137.20,969.12 M137.20,972.52 L140.43,971.47 M137.20,972.52 L139.20,975.27 M137.20,972.52 L135.20,975.27 M137.20,972.52 L133.97,971.47 " stroke="#000" stroke-width="1.45" stroke-linecap="round" fill="none"/>
<line x1="192.70" y1="994.80" x2="219.10" y2="994.80" stroke="#000" stroke-width="1.6" />
<path d="M206.70,989.72 L206.70,986.32 M206.70,989.72 L209.93,988.67 M206.70,989.72 L208.70,992.47 M206.70,989.72 L204.70,992.47 M206.70,989.72 L203.47,988.67 " stroke="#000" stroke-width="1.45" stroke-linecap="round" fill="none"/>
<line x1="219.60" y1="968.00" x2="360.60" y2="968.00" stroke="#000" stroke-width="1.6" />
<path d="M290.40,960.32 L290.40,956.92 M290.40,960.32 L293.63,959.27 M290.40,960.32 L292.40,963.07 M290.40,960.32 L288.40,963.07 M290.40,960.32 L287.17,959.27 " stroke="#000" stroke-width="1.45" stroke-linecap="round" fill="none"/>
<line x1="219.60" y1="985.00" x2="288.70" y2="985.00" stroke="#000" stroke-width="1.6" />
<path d="M253.80,980.12 L253.80,976.72 M253.80,980.12 L257.03,979.07 M253.80,980.12 L255.80,982.87 M253.80,980.12 L251.80,982.87 M253.80,980.12 L250.57,979.07 " stroke="#000" stroke-width="1.45" stroke-linecap="round" fill="none"/>
<text transform="translate(31.60,1052.50) rotate(-90)" font-size="12.35" font-weight="bold" text-anchor="middle">level of lysine methylation</text>
<text transform="translate(48.40,1052.50) rotate(-90)" font-size="12.35" font-weight="bold" text-anchor="middle">in neoblasts population in</text>
<text transform="translate(63.40,1052.50) rotate(-90)" font-size="12.35" font-weight="bold" text-anchor="middle">relative fluorescence intensity</text>
<text transform="translate(141.50,1158.50) rotate(-45)" font-size="11.5" font-weight="bold" font-style="normal" text-anchor="end">control</text>
<text transform="translate(203.50,1158.50) rotate(-45)" font-size="11.5" font-weight="bold" font-style="normal" text-anchor="end"><tspan font-style="italic">eGFP</tspan></text>
<text transform="translate(215.50,1169.00) rotate(-45)" font-size="11.5" font-weight="bold" font-style="normal" text-anchor="end">(RNAi)</text>
<text transform="translate(275.50,1158.50) rotate(-45)" font-size="11.5" font-weight="bold" font-style="normal" text-anchor="end"><tspan font-style="italic">Smed-setd8-1</tspan></text>
<text transform="translate(271.50,1182.00) rotate(-45)" font-size="11.5" font-weight="bold" font-style="normal" text-anchor="end">(RNAi)</text>
<text transform="translate(344.50,1157.00) rotate(-45)" font-size="11.5" font-weight="bold" font-style="normal" text-anchor="end"><tspan font-style="italic">Smed-PGRP-2</tspan></text>
<text transform="translate(340.00,1186.00) rotate(-45)" font-size="11.5" font-weight="bold" font-style="normal" text-anchor="end">(RNAi)</text>
<line x1="32.00" y1="1224.20" x2="379.70" y2="1224.20" stroke="#000" stroke-width="3.2" />
<text x="4.00" y="1248.70" font-size="22" font-weight="normal" font-style="italic" text-anchor="start" fill="#000" >S. aureus</text>
<rect x="119.10" y="1243.50" width="6.80" height="2.00" fill="#000"/>
<text x="150.60" y="1250.20" font-size="22" font-weight="normal" font-style="normal" text-anchor="middle" fill="#000" >+</text>
<rect x="188.90" y="1243.50" width="6.80" height="2.00" fill="#000"/>
<text x="218.40" y="1250.20" font-size="22" font-weight="normal" font-style="normal" text-anchor="middle" fill="#000" >+</text>
<rect x="258.60" y="1243.50" width="6.80" height="2.00" fill="#000"/>
<text x="288.10" y="1250.20" font-size="22" font-weight="normal" font-style="normal" text-anchor="middle" fill="#000" >+</text>
<rect x="326.20" y="1243.50" width="6.80" height="2.00" fill="#000"/>
<text x="358.20" y="1250.20" font-size="22" font-weight="normal" font-style="normal" text-anchor="middle" fill="#000" >+</text>
<line x1="494.80" y1="983.10" x2="494.80" y2="1171.50" stroke="#000" stroke-width="1.6" />
<line x1="494.00" y1="1170.70" x2="773.70" y2="1170.70" stroke="#000" stroke-width="1.6" />
<line x1="491.20" y1="1170.70" x2="494.80" y2="1170.70" stroke="#000" stroke-width="1.6" />
<text x="489.60" y="1175.16" font-size="12.4" font-weight="bold" font-style="normal" text-anchor="end" fill="#000" >0.0</text>
<line x1="491.20" y1="1133.34" x2="494.80" y2="1133.34" stroke="#000" stroke-width="1.6" />
<text x="489.60" y="1137.80" font-size="12.4" font-weight="bold" font-style="normal" text-anchor="end" fill="#000" >0.5</text>
<line x1="491.20" y1="1095.98" x2="494.80" y2="1095.98" stroke="#000" stroke-width="1.6" />
<text x="489.60" y="1100.44" font-size="12.4" font-weight="bold" font-style="normal" text-anchor="end" fill="#000" >1.0</text>
<line x1="491.20" y1="1058.62" x2="494.80" y2="1058.62" stroke="#000" stroke-width="1.6" />
<text x="489.60" y="1063.08" font-size="12.4" font-weight="bold" font-style="normal" text-anchor="end" fill="#000" >1.5</text>
<line x1="491.20" y1="1021.26" x2="494.80" y2="1021.26" stroke="#000" stroke-width="1.6" />
<text x="489.60" y="1025.72" font-size="12.4" font-weight="bold" font-style="normal" text-anchor="end" fill="#000" >2.0</text>
<line x1="491.20" y1="983.90" x2="494.80" y2="983.90" stroke="#000" stroke-width="1.6" />
<text x="489.60" y="988.36" font-size="12.4" font-weight="bold" font-style="normal" text-anchor="end" fill="#000" >2.5</text>
<rect x="512.40" y="1096.00" width="35.30" height="74.70" fill="#000"/>
<line x1="530.05" y1="1081.20" x2="530.05" y2="1096.50" stroke="#000" stroke-width="1.6" />
<line x1="521.50" y1="1081.20" x2="538.60" y2="1081.20" stroke="#000" stroke-width="1.6" />
<rect x="581.90" y="1027.20" width="35.40" height="143.50" fill="#000"/>
<line x1="599.60" y1="1013.00" x2="599.60" y2="1027.70" stroke="#000" stroke-width="1.6" />
<line x1="591.00" y1="1013.00" x2="608.20" y2="1013.00" stroke="#000" stroke-width="1.6" />
<rect x="651.90" y="1088.90" width="35.20" height="81.80" fill="#000"/>
<line x1="669.50" y1="1076.70" x2="669.50" y2="1089.40" stroke="#000" stroke-width="1.6" />
<line x1="661.00" y1="1076.70" x2="678.00" y2="1076.70" stroke="#000" stroke-width="1.6" />
<rect x="721.10" y="1081.20" width="35.90" height="89.50" fill="#000"/>
<line x1="739.05" y1="1065.60" x2="739.05" y2="1081.70" stroke="#000" stroke-width="1.6" />
<line x1="730.25" y1="1065.60" x2="747.85" y2="1065.60" stroke="#000" stroke-width="1.6" />
<line x1="530.20" y1="1170.70" x2="530.20" y2="1174.30" stroke="#000" stroke-width="1.6" />
<line x1="599.70" y1="1170.70" x2="599.70" y2="1174.30" stroke="#000" stroke-width="1.6" />
<line x1="669.50" y1="1170.70" x2="669.50" y2="1174.30" stroke="#000" stroke-width="1.6" />
<line x1="739.00" y1="1170.70" x2="739.00" y2="1174.30" stroke="#000" stroke-width="1.6" />
<line x1="524.20" y1="955.00" x2="737.30" y2="955.00" stroke="#000" stroke-width="1.6" />
<text x="619.40" y="951.30" font-size="21.5" font-weight="normal" font-style="normal" text-anchor="start" fill="#000" >ns</text>
<line x1="524.20" y1="977.80" x2="669.50" y2="977.80" stroke="#000" stroke-width="1.6" />
<text x="584.30" y="973.50" font-size="21.5" font-weight="normal" font-style="normal" text-anchor="start" fill="#000" >ns</text>
<line x1="598.10" y1="990.70" x2="739.40" y2="990.70" stroke="#000" stroke-width="1.6" />
<path d="M671.30,984.02 L671.30,980.62 M671.30,984.02 L674.53,982.97 M671.30,984.02 L673.30,986.77 M671.30,984.02 L669.30,986.77 M671.30,984.02 L668.07,982.97 " stroke="#000" stroke-width="1.45" stroke-linecap="round" fill="none"/>
<line x1="526.20" y1="1001.90" x2="595.50" y2="1001.90" stroke="#000" stroke-width="1.6" />
<path d="M564.10,994.42 L564.10,991.02 M564.10,994.42 L567.33,993.37 M564.10,994.42 L566.10,997.17 M564.10,994.42 L562.10,997.17 M564.10,994.42 L560.87,993.37 " stroke="#000" stroke-width="1.45" stroke-linecap="round" fill="none"/>
<line x1="598.10" y1="1005.90" x2="669.50" y2="1005.90" stroke="#000" stroke-width="1.6" />
<path d="M636.00,1000.32 L636.00,996.92 M636.00,1000.32 L639.23,999.27 M636.00,1000.32 L638.00,1003.07 M636.00,1000.32 L634.00,1003.07 M636.00,1000.32 L632.77,999.27 " stroke="#000" stroke-width="1.45" stroke-linecap="round" fill="none"/>
<text transform="translate(425.10,1074.80) rotate(-90)" font-size="12.4" font-weight="bold" text-anchor="middle">level of lysine methylation</text>
<text transform="translate(441.20,1074.80) rotate(-90)" font-size="12.4" font-weight="bold" text-anchor="middle">in neoblasts population in</text>
<text transform="translate(457.00,1074.80) rotate(-90)" font-size="12.4" font-weight="bold" text-anchor="middle">relative fluorescence intensity</text>
<text transform="translate(533.50,1183.00) rotate(-34)" font-size="11.5" font-weight="bold" font-style="normal" text-anchor="end">control</text>
<text transform="translate(602.50,1183.00) rotate(-34)" font-size="11.5" font-weight="bold" font-style="normal" text-anchor="end"><tspan font-weight="bold">S.</tspan> <tspan font-style="italic" font-weight="normal">aureus</tspan></text>
<text transform="translate(672.50,1183.00) rotate(-34)" font-size="11.5" font-weight="normal" font-style="italic" text-anchor="end">L. pneumophila</text>
<text transform="translate(742.00,1183.00) rotate(-34)" font-size="11.5" font-weight="normal" font-style="italic" text-anchor="end">M. avium</text>
</svg>
</body></html>
